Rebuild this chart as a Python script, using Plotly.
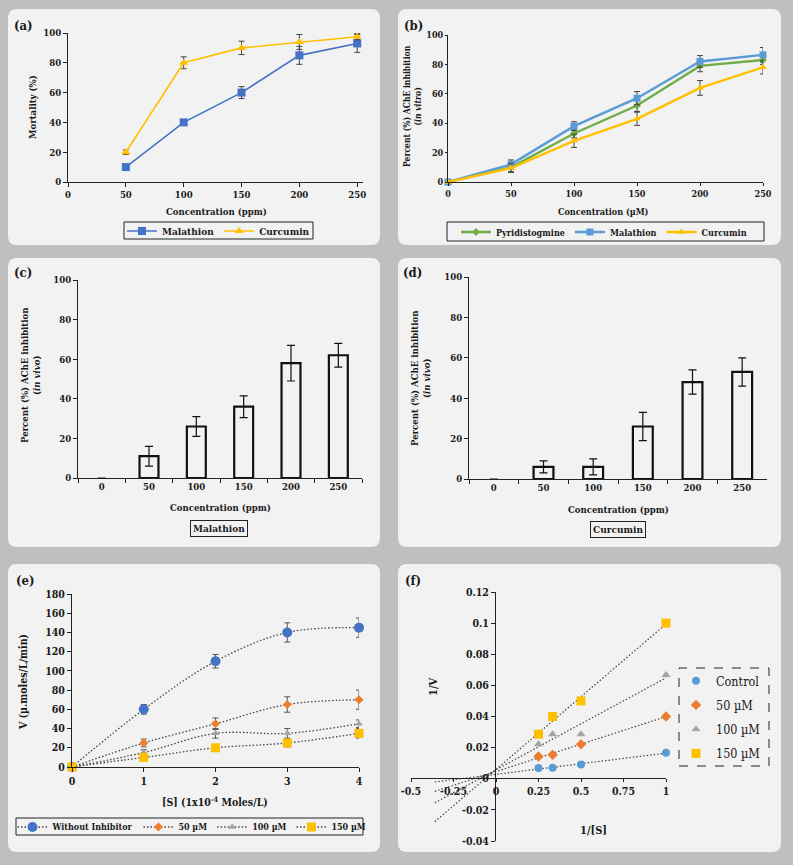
import numpy as np
import plotly.graph_objects as go

W, H = 793, 865
FONT = "DejaVu Serif Condensed, DejaVu Serif, Liberation Serif, serif"

# ---------------- data ----------------
# (a) mortality
conc_a = [50, 100, 150, 200, 250]
mort_malathion = [10, 40, 60, 85, 93]
mort_malathion_err = [0.8, 2, 4, 6, 6]
mort_curcumin = [20, 80, 90, 94, 97.5]
mort_curcumin_err = [1.5, 4, 4.5, 5, 2]

# (b) in vitro inhibition
conc_b = [0, 50, 100, 150, 200, 250]
inh_pyr = [0, 10, 33, 52, 79, 83]
inh_pyr_err = [0, 3, 3, 4, 4, 3]
inh_mal = [0, 12, 38, 57, 82, 86.5]
inh_mal_err = [0, 3, 3, 4.5, 4, 5]
inh_cur = [0, 9.5, 28, 43, 64, 78]
inh_cur_err = [0, 3, 4.5, 4.5, 5, 4.5]

# (c), (d) in vivo inhibition
conc_cats = ["0", "50", "100", "150", "200", "250"]
vivo_mal = [0, 11, 26, 36, 58, 62]
vivo_mal_err = [0, 5, 5, 5.5, 9, 6]
vivo_cur = [0, 6, 6, 26, 48, 53]
vivo_cur_err = [0, 3, 4, 7, 6, 7]

# (e) Michaelis-Menten
subs = [0, 1, 2, 3, 4]
v_none = [0, 60, 110, 140, 145]
v_none_err = [0, 5, 7, 10, 10]
v_50 = [0, 25, 45, 65, 70]
v_50_err = [0, 4, 6, 8, 10]
v_100 = [0, 15, 35, 35, 45]
v_100_err = [0, 3, 5, 5, 4]
v_150 = [0, 10, 20, 25, 35]
v_150_err = [0, 2, 2, 4, 5]

# (f) Lineweaver-Burk
inv_s = [1, 0.5, 0.333, 0.25]
inv_v_control = [0.0167, 0.0091, 0.0071, 0.0069]
inv_v_50 = [0.04, 0.0222, 0.0154, 0.0143]
inv_v_100 = [0.0667, 0.0286, 0.0286, 0.0222]
inv_v_150 = [0.1, 0.05, 0.04, 0.0286]
trend_start = -0.36

# ---------------- helpers ----------------
def X(p):
    return p / W

def Y(p):
    return 1 - p / H

def rounded(x0, y0, x1, y1, r=9):
    path = (f"M {X(x0+r)},{Y(y0)} L {X(x1-r)},{Y(y0)} Q {X(x1)},{Y(y0)} {X(x1)},{Y(y0+r)} "
            f"L {X(x1)},{Y(y1-r)} Q {X(x1)},{Y(y1)} {X(x1-r)},{Y(y1)} L {X(x0+r)},{Y(y1)} "
            f"Q {X(x0)},{Y(y1)} {X(x0)},{Y(y1-r)} L {X(x0)},{Y(y0+r)} Q {X(x0)},{Y(y0)} {X(x0+r)},{Y(y0)} Z")
    return dict(type="path", path=path, xref="paper", yref="paper",
                fillcolor="#f2f2f2", line=dict(width=0), layer="below")

def box(x0, y0, x1, y1, dash="solid"):
    return dict(type="rect", xref="paper", yref="paper", x0=X(x0), x1=X(x1),
                y0=Y(y1), y1=Y(y0), line=dict(color="#222", width=1, dash=dash),
                fillcolor="rgba(0,0,0,0)", layer="above")

def err(arr, color="#444", width=3, thick=1):
    return dict(type="data", array=arr, color=color, thickness=thick, width=width, visible=True)

fig = go.Figure()

# (a)
fig.add_trace(go.Scatter(x=conc_a, y=mort_malathion, mode="lines+markers", name="Malathion",
                         line=dict(color="#4472C4", width=1.6),
                         marker=dict(symbol="square", size=8, color="#4472C4"),
                         error_y=err(mort_malathion_err), xaxis="x", yaxis="y",
                         legend="legend", cliponaxis=False))
fig.add_trace(go.Scatter(x=conc_a, y=mort_curcumin, mode="lines+markers", name="Curcumin",
                         line=dict(color="#FFC000", width=1.6),
                         marker=dict(symbol="triangle-up", size=8, color="#FFC000"),
                         error_y=err(mort_curcumin_err), xaxis="x", yaxis="y",
                         legend="legend", cliponaxis=False))

# (b)
for name, ys, es, col, sym, sz in [
        ("Pyridistogmine", inh_pyr, inh_pyr_err, "#70AD47", "diamond", 6),
        ("Malathion", inh_mal, inh_mal_err, "#5B9BD5", "square", 7),
        ("Curcumin", inh_cur, inh_cur_err, "#FFC000", "triangle-up", 7)]:
    fig.add_trace(go.Scatter(x=conc_b, y=ys, mode="lines+markers", name=name,
                             line=dict(color=col, width=2.4),
                             marker=dict(symbol=sym, size=sz, color=col),
                             error_y=err(es), xaxis="x2", yaxis="y2",
                             legend="legend2", cliponaxis=False))

# (c), (d)
bar_lw = [0, 2.2, 2.2, 2.2, 2.2, 2.2]
fig.add_trace(go.Bar(x=conc_cats, y=vivo_mal, width=0.4, showlegend=False,
                     marker=dict(color="rgba(0,0,0,0)", line=dict(color="#111", width=bar_lw)),
                     error_y=err(vivo_mal_err, color="#111", width=4, thick=1.2),
                     xaxis="x3", yaxis="y3"))
fig.add_trace(go.Bar(x=conc_cats, y=vivo_cur, width=0.4, showlegend=False,
                     marker=dict(color="rgba(0,0,0,0)", line=dict(color="#111", width=bar_lw)),
                     error_y=err(vivo_cur_err, color="#111", width=4, thick=1.2),
                     xaxis="x4", yaxis="y4"))

# (e)
for name, ys, es, col, sym, sz in [
        ("Without Inhibitor", v_none, v_none_err, "#4472C4", "circle", 10),
        ("50 µM", v_50, v_50_err, "#ED7D31", "diamond", 7),
        ("100 µM", v_100, v_100_err, "#A5A5A5", "triangle-up", 7),
        ("150 µM", v_150, v_150_err, "#FFC000", "square", 9)]:
    fig.add_trace(go.Scatter(x=subs, y=ys, mode="lines+markers", name=name,
                             line=dict(color="#444", width=1.3, dash="1.5px,2px", shape="spline"),
                             marker=dict(symbol=sym, size=sz, color=col),
                             error_y=err(es, color="#555"), xaxis="x5", yaxis="y5",
                             legend="legend3", cliponaxis=False))

# (f)
for i, (name, ys, col, sym, sz) in enumerate([
        ("Control", inv_v_control, "#5B9BD5", "circle", 8),
        ("50 µM", inv_v_50, "#ED7D31", "diamond", 8),
        ("100 µM", inv_v_100, "#A5A5A5", "triangle-up", 8),
        ("150 µM", inv_v_150, "#FFC000", "square", 9)]):
    k, b = np.polyfit(inv_s, ys, 1)
    tx = [trend_start, max(inv_s)]
    fig.add_trace(go.Scatter(x=tx, y=[k * t + b for t in tx], mode="lines", showlegend=False,
                             line=dict(color="#444", width=1.2, dash="1.5px,2px"),
                             xaxis="x6", yaxis="y6", hoverinfo="skip"))
    fig.add_trace(go.Scatter(x=inv_s, y=ys, mode="markers", name=name,
                             marker=dict(symbol=sym, size=sz, color=col),
                             xaxis="x6", yaxis="y6", legend="legend4", legendgroup=f"g{i}",
                             cliponaxis=False))

# ---------------- axes ----------------
def ax(domain_px, rng, fs, horizontal=True, **kw):
    if horizontal:
        dom = [X(domain_px[0]), X(domain_px[1])]
    else:
        dom = [Y(domain_px[1]), Y(domain_px[0])]
    d = dict(domain=dom, range=rng, showline=True, linecolor="#222", linewidth=1,
             ticks="outside", ticklen=4, tickcolor="#222", showgrid=False, zeroline=False,
             automargin=False,
             tickfont=dict(size=fs, family=FONT, color="#1a1a1a", weight="bold"), fixedrange=True)
    d.update(kw)
    return d

layout = dict(
    template="none",
    width=W, height=H, margin=dict(l=0, r=0, t=0, b=0, pad=0, autoexpand=False),
    paper_bgcolor="#bfbfbf", plot_bgcolor="rgba(0,0,0,0)",
    font=dict(family=FONT, color="#1a1a1a", size=10, weight="bold"),
    bargap=0.6,
)
# (a)
layout["xaxis"] = ax((68, 363), [0, 255], 9.5, anchor="y", tickvals=[0, 50, 100, 150, 200, 250])
layout["yaxis"] = ax((33, 182), [0, 100], 9.5, horizontal=False, anchor="x", dtick=20)
# (b)
layout["xaxis2"] = ax((448, 763), [0, 250], 9, anchor="y2", tickvals=[0, 50, 100, 150, 200, 250], ticklen=3)
layout["yaxis2"] = ax((35, 182), [0, 100], 9, horizontal=False, anchor="x2", dtick=20, ticklen=2)
# (c)
layout["xaxis3"] = ax((78, 362), [-0.5, 5.5], 9.5, anchor="y3", type="category", tickson="boundaries")
layout["yaxis3"] = ax((280, 478), [0, 100], 9.5, horizontal=False, anchor="x3", dtick=20)
# (d)
layout["xaxis4"] = ax((469, 767), [-0.5, 5.5], 9.5, anchor="y4", type="category", tickson="boundaries")
layout["yaxis4"] = ax((277, 479), [0, 100], 9.5, horizontal=False, anchor="x4", dtick=20)
# (e)
layout["xaxis5"] = ax((72, 359), [0, 4], 10.5, anchor="y5", dtick=1)
layout["yaxis5"] = ax((594, 767), [0, 180], 10.5, horizontal=False, anchor="x5", dtick=20)
# (f)
fx_ticks = [-0.5, -0.25, 0, 0.25, 0.5, 0.75, 1]
fy_ticks = [-0.04, -0.02, 0, 0.02, 0.04, 0.06, 0.08, 0.1, 0.12]
layout["xaxis6"] = ax((411, 666), [-0.5, 1], 10.5, anchor="free", position=Y(778),
                      tickvals=fx_ticks, ticktext=[f"{v:g}" for v in fx_ticks], ticklen=3)
layout["yaxis6"] = ax((592, 841), [-0.04, 0.12], 10.5, horizontal=False, anchor="free",
                      position=X(495), tickvals=fy_ticks, ticktext=[f"{v:g}" for v in fy_ticks])

# ---------------- legends ----------------
def leg(xc, yc, fs, **kw):
    d = dict(x=X(xc), y=Y(yc), xanchor="center", yanchor="middle", orientation="h",
             bgcolor="rgba(0,0,0,0)", borderwidth=0, itemwidth=30,
             font=dict(size=fs, family=FONT, color="#1a1a1a", weight="bold"),
             itemclick=False, itemdoubleclick=False)
    d.update(kw)
    return d

layout["legend"] = leg((124 + 313) / 2, 231, 10)
layout["legend2"] = leg(604, 232, 9)
layout["legend3"] = leg(192, 827, 8.9)
layout["legend4"] = dict(x=X(676), y=Y(717), xanchor="left", yanchor="middle", orientation="v",
                         bgcolor="rgba(0,0,0,0)", borderwidth=0, itemwidth=30, tracegroupgap=5,
                         font=dict(size=12.5, family=FONT, color="#1a1a1a", weight="normal"))

# ---------------- shapes ----------------
shapes = [
    rounded(8, 9, 380, 245), rounded(398, 9, 781, 245),
    rounded(8, 258, 380, 547), rounded(398, 258, 781, 547),
    rounded(8, 564, 380, 852), rounded(398, 564, 781, 852),
    box(124, 222, 313, 239), box(447, 222, 764, 241), box(16, 818, 363, 835),
    box(679, 668, 769, 766, dash="dash"),
]
layout["shapes"] = shapes

# ---------------- annotations ----------------
def txt(t, xc, yc, fs, angle=0, xanchor="center", **kw):
    d = dict(text=t, x=X(xc), y=Y(yc), xref="paper", yref="paper", showarrow=False,
             xanchor=xanchor, yanchor="middle", textangle=angle,
             font=dict(size=fs, family=FONT, color="#1a1a1a", weight="bold"))
    d.update(kw)
    return d

ann = [
    txt("(a)", 12, 25, 13, xanchor="left"),
    txt("(b)", 402, 25, 13, xanchor="left"),
    txt("(c)", 12, 272, 13, xanchor="left"),
    txt("(d)", 401, 272, 13, xanchor="left"),
    txt("(e)", 14, 580, 13, xanchor="left"),
    txt("(f)", 403, 580, 13, xanchor="left"),
    txt("Mortality (%)", 32, 107, 9.5, angle=-90),
    txt("Percent (%) AChE inhibition<br>(<i>in vitro</i>)", 412, 106, 8.5, angle=-90),
    txt("Percent (%) AChE inhibition<br>(<i>in vivo</i>)", 31, 375, 9.5, angle=-90),
    txt("Percent (%) AChE inhibition<br>(<i>in vivo</i>)", 420, 378, 9.5, angle=-90),
    txt("V (µ.moles/L/min)", 23, 682, 10.5, angle=-90),
    txt("1/V", 433, 687, 11, angle=-90),
    txt("Concentration (ppm)", 216, 211, 9.5),
    txt("Concentration (µM)", 603, 212, 9),
    txt("Concentration (ppm)", 220, 507, 9.5),
    txt("Concentration (ppm)", 618, 509, 9.5),
    txt("[S] (1x10<sup>-4</sup> Moles/L)", 215, 801, 10.5),
    txt("1/[S]", 593, 830, 11),
    txt("Malathion", 219, 528, 10, bordercolor="#222", borderwidth=1, borderpad=2),
    txt("Curcumin", 618, 529, 10, bordercolor="#222", borderwidth=1, borderpad=2),
]
layout["annotations"] = ann

fig.update_layout(**layout)
fig.write_html("out.html", config={"displayModeBar": False},
               post_script="document.body.style.margin='0';")
